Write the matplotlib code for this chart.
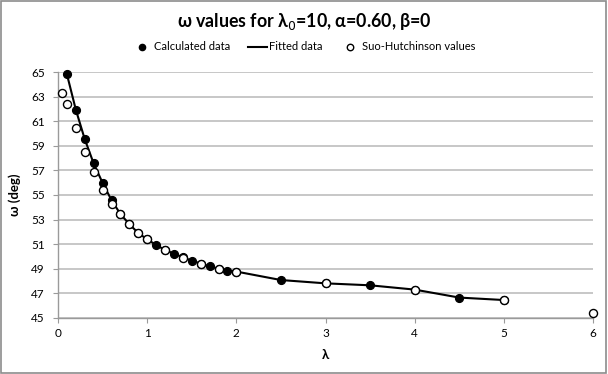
import matplotlib
matplotlib.use('Agg')
import matplotlib.pyplot as plt
from matplotlib.patches import Rectangle
import numpy as np

plt.rcParams['font.family'] = ['Lato', 'DejaVu Sans']

# calculated data (filled) and fitted line through them
calcX = [0.1, 0.2, 0.3, 0.4, 0.5, 0.6, 0.7, 0.8, 0.9, 1.0,
         1.1, 1.2, 1.3, 1.4, 1.5, 1.6, 1.7, 1.8, 1.9, 2.0,
         2.5, 3.0, 3.5, 4.0, 4.5, 5.0]
calcY = [64.84, 61.95, 59.55, 57.57, 55.99, 54.58, 53.45, 52.62, 51.90, 51.39,
         50.93, 50.52, 50.22, 49.92, 49.65, 49.41, 49.19, 48.99, 48.84, 48.76,
         48.07, 47.80, 47.64, 47.29, 46.64, 46.44]

# Suo-Hutchinson values (open)
suoX = [0.05, 0.1, 0.2, 0.3, 0.4, 0.5, 0.6, 0.7, 0.8, 0.9, 1.0,
        1.2, 1.4, 1.6, 1.8, 2.0, 3.0, 4.0, 5.0, 6.0]
suoY = [63.34, 62.44, 60.43, 58.52, 56.84, 55.42, 54.30, 53.43, 52.62, 51.90, 51.39,
        50.50, 49.90, 49.40, 48.97, 48.76, 47.83, 47.29, 46.44, 45.40]

xTicks = [0, 1, 2, 3, 4, 5, 6]
yTicks = [45, 47, 49, 51, 53, 55, 57, 59, 61, 63, 65]

fig = plt.figure(figsize=(6.08, 3.74), dpi=100)
ax = fig.add_axes([58/608, 1 - 317.7/374, (593 - 58)/608, (317.7 - 72.3)/374])

ax.plot(calcX, calcY, '-', color='black', lw=1.5, zorder=2, label='Fitted data',
        clip_on=False)
ax.plot(calcX, calcY, 'o', color='black', ms=5.6, mec='black', zorder=3,
        label='Calculated data', clip_on=False)
ax.plot(suoX, suoY, 'o', mfc='white', mec='black', ms=5.8, mew=1, zorder=4,
        label='Suo-Hutchinson values', clip_on=False)

ax.set_xlim(0, 6)
ax.set_ylim(45, 65)
ax.set_xticks(xTicks)
ax.set_yticks(yTicks)
ax.yaxis.grid(True, color='#BEBEBE', lw=1.2)
ax.set_axisbelow(True)
for s in ['top', 'right']:
    ax.spines[s].set_visible(False)
for s in ['left', 'bottom']:
    ax.spines[s].set_color('#9A9A9A')
    ax.spines[s].set_linewidth(1)
ax.tick_params(axis='both', colors='#9A9A9A', labelcolor='black', labelsize=8.5, length=3.5)
ax.tick_params(axis='x', pad=4)
ax.tick_params(axis='y', pad=6)

ax.set_xlabel('λ', fontsize=9.5, fontweight='bold', labelpad=7)
ax.set_ylabel('ω (deg)', fontsize=9.5, fontweight='bold', labelpad=7)

fig.text(0.5, 1 - 21/374, 'ω values for λ$_0$=10, α=0.60, β=0', ha='center', va='center',
         fontsize=12.8, fontweight='bold')

handles, labels = ax.get_legend_handles_labels()
order = [1, 0, 2]
fig.legend([handles[i] for i in order], [labels[i] for i in order],
           loc='center', bbox_to_anchor=(0.5, 1 - 47/374), ncol=3, frameon=False,
           fontsize=8, handlelength=1.7, columnspacing=1.6, handletextpad=0.2,
           markerscale=0.8)

fig.add_artist(Rectangle((0.002, 0.003), 0.995, 0.994, transform=fig.transFigure,
                         fill=False, ec='#8C8C8C', lw=1.2))

fig.savefig('out.png', dpi=100)
